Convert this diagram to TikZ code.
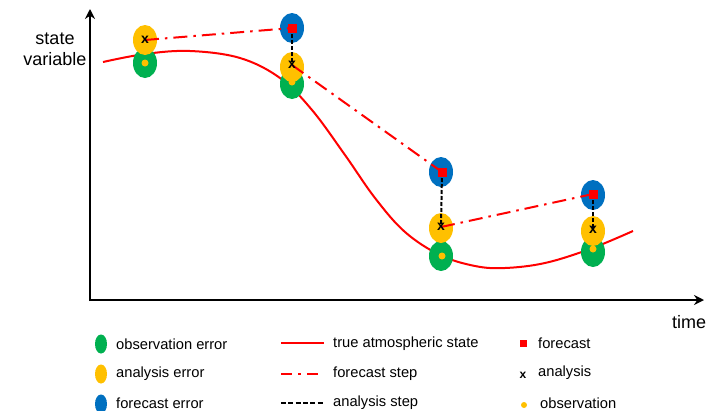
\documentclass[tikz,border=0pt]{standalone}
\usepackage{fontspec}
\setmainfont{Liberation Sans}
\usetikzlibrary{shapes.geometric,arrows.meta}
\definecolor{obsgreen}{HTML}{00B050}
\definecolor{anaorange}{HTML}{FFC000}
\definecolor{fcblue}{HTML}{0070C0}
\begin{document}
\begin{tikzpicture}[x=1pt,y=-1pt,
  err/.style={ellipse, minimum width=24pt, minimum height=30pt, inner sep=0pt},
  lerr/.style={ellipse, minimum width=12pt, minimum height=19pt, inner sep=0pt},
  obserr/.style={err, fill=obsgreen},
  anaerr/.style={err, fill=anaorange},
  fcerr/.style={err, fill=fcblue},
  obsdot/.style={circle, fill=anaorange, minimum size=7pt, inner sep=0pt},
  fcsq/.style={rectangle, fill=red, minimum size=9pt, inner sep=0pt},
  anax/.style={font=\fontsize{14}{14}\selectfont\bfseries, inner sep=0pt, text=black},
  truth/.style={red, line width=2pt},
  fstep/.style={red, line width=2pt, dash pattern=on 14pt off 6pt on 2.5pt off 6pt},
  astep/.style={black, line width=2pt, dash pattern=on 4pt off 2pt},
  axis/.style={line width=2.4pt, -{Stealth[length=10pt,width=10pt]}},
  lab/.style={font=\fontsize{14.7}{17}\selectfont, anchor=west, inner sep=0pt},
  axlab/.style={font=\fontsize{18}{21}\selectfont, align=center, inner sep=0pt}
]
\useasboundingbox (0,0) rectangle (712,410);
% axes
\coordinate (o) at (90,301);
\coordinate (ytop) at (90,9);
\coordinate (xend) at (704,300);
\coordinate (xstart) at (89,300);
\draw[axis] (o) -- (ytop);
\draw[axis] (xstart) -- (xend);
\node[axlab] (ylab) at (55,49) {state\\variable};
\node[axlab] (xlab) at (689,322) {time};
% true state
\draw[truth] plot[smooth, tension=0.6] coordinates {(103,62) (145,54) (190,51) (240,58) (280,78) (312,110) (345,155) (375,198) (405,232) (440,255) (475,266) (505,268) (545,263) (590,249) (633,231)};
% error ellipses
\node[obserr] (g1) at (145,63) {};
\node[anaerr] (y1) at (145,40) {};
\node[obserr] (g2) at (292,84) {};
\node[anaerr] (y2) at (292,67) {};
\node[fcerr] (b2) at (292,28) {};
\node[obserr] (g3) at (441,256) {};
\node[anaerr] (y3) at (441,228) {};
\node[fcerr] (b3) at (441,172) {};
\node[obserr] (g4) at (593,252) {};
\node[anaerr] (y4) at (593,231) {};
\node[fcerr] (b4) at (593,195) {};
% observations
\node[obsdot] (o1) at (145,63) {};
\node[obsdot] (o2) at (292,82) {};
\node[obsdot] (o3) at (442,256) {};
\node[obsdot] (o4) at (593,249) {};
% markers positions
\coordinate (pa1) at (145,40);
\coordinate (pa2) at (292,65);
\coordinate (pa3) at (441,227);
\coordinate (pa4) at (593,230);
\coordinate (pf2) at (292,28);
\coordinate (pf3) at (442,172);
\coordinate (pf4) at (593,194);
% analysis steps
\draw[astep] (pf2) -- (pa2);
\draw[astep] (pf3) -- (pa3);
\draw[astep] (pf4) -- (pa4);
% forecast steps
\draw[fstep] (pa1) -- (pf2);
\draw[fstep] (pa2) -- (pf3);
\draw[fstep] (pa3) -- (pf4);
% forecasts and analyses
\node[fcsq] (f2) at (pf2) {};
\node[fcsq] (f3) at (pf3) {};
\node[fcsq] (f4) at (pf4) {};
\node[anax] (a1) at (pa1) {x};
\node[anax] (a2) at (pa2) {x};
\node[anax] (a3) at (pa3) {x};
\node[anax] (a4) at (pa4) {x};
% legend column 1
\node[lerr, fill=obsgreen] (le1) at (101,344) {};
\node[lerr, fill=anaorange] (le2) at (101,374) {};
\node[lerr, fill=fcblue] (le3) at (101,404) {};
\node[lab] (t1) at (116,344) {observation error};
\node[lab] (t2) at (116,374) {analysis error};
\node[lab] (t3) at (116,403) {forecast error};
% legend column 2
\coordinate (l1a) at (281,343);
\coordinate (l1b) at (324,343);
\coordinate (l2a) at (281,374);
\coordinate (l2b) at (324,374);
\coordinate (l3a) at (281,403);
\coordinate (l3b) at (324,403);
\draw[truth] (l1a) -- (l1b);
\draw[red, line width=1.8pt, dash pattern=on 11pt off 6pt on 3pt off 6pt] (l2a) -- (l2b);
\draw[black, line width=1.5pt, dash pattern=on 5pt off 2.3pt] (l3a) -- (l3b);
\node[lab] (t4) at (333,344) {true atmospheric state};
\node[lab] (t5) at (333,374) {forecast step};
\node[lab] (t6) at (333,403) {analysis step};
% legend column 3
\node[rectangle, fill=red, minimum size=7pt, inner sep=0pt] (lsq) at (523,343) {};
\node[anax, font=\fontsize{12}{12}\selectfont\bfseries] (lx) at (523,375) {x};
\node[circle, fill=anaorange, minimum size=6pt, inner sep=0pt] (ldot) at (524,405) {};
\node[lab] (t7) at (538,343) {forecast};
\node[lab] (t8) at (538,373) {analysis};
\node[lab] (t9) at (540,403) {observation};
\end{tikzpicture}
\end{document}
